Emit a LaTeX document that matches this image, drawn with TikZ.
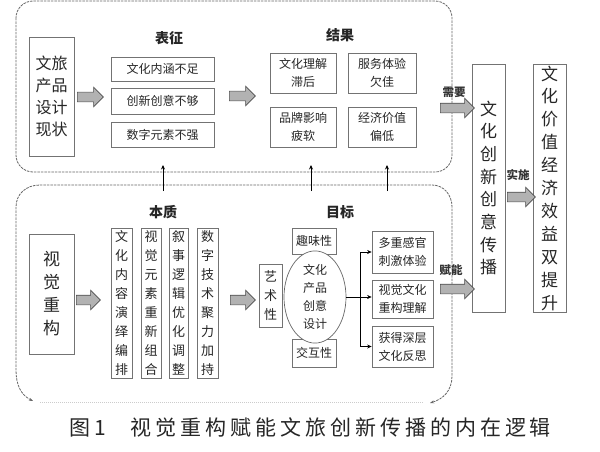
\documentclass[tikz,border=0pt]{standalone}
\usepackage{fontspec}
\setmainfont{Noto Sans CJK SC}
\newfontfamily\capfont[LetterSpace=19]{Noto Sans CJK SC}
\usepackage{tikz}
\usetikzlibrary{arrows.meta,positioning,shapes.geometric,shapes.arrows,shadows}
\newcommand{\fsz}[2]{\fontsize{#1}{#2}\selectfont}

\begin{document}
\begin{tikzpicture}[x=1pt,y=-1pt,
  box/.style={draw=black!55,line width=0.7pt,fill=white,inner sep=0pt,align=center,
    text=black!85,font=\fsz{12}{18},
    drop shadow={shadow xshift=1pt,shadow yshift=-1pt,fill=black!35,opacity=0.6}},
  grouplabel/.style={font=\bfseries\fsz{14}{16},text=black!85},
  verblabel/.style={font=\bfseries\fsz{11.5}{13},text=black!80},
  fat/.style={single arrow,draw=black!70,fill=black!30,line width=0.6pt,inner sep=4.5pt,
    single arrow head extend=5pt,minimum height=#1},
  region/.style={draw=black!60,line width=0.8pt,dash pattern=on 2.5pt off 1pt},
  link/.style={-{Stealth[length=4.5pt,width=4pt]},black,line width=0.7pt}]
  \useasboundingbox (0,0) rectangle (600,452);
  % ---- upper region: design status
  \draw[region,rounded corners=17pt] (16,1) rectangle (452,172);
  \node[box,font=\fsz{16}{22},minimum width=45,minimum height=119] (status) at (51.5,96.5)
    {文旅\\产品\\设计\\现状};
  \node[fat=26] (ar1) at (88,97) {};
  \node[grouplabel] (lbsym) at (169,38) {表征};
  \node[box,minimum width=103,minimum height=24] (t1) at (162.5,69) {文化内涵不足};
  \node[box,minimum width=103,minimum height=26] (t2) at (162.5,101) {创新创意不够};
  \node[box,minimum width=103,minimum height=25] (t3) at (162.5,134.5) {数字元素不强};
  \node[fat=26] (ar2) at (240,96) {};
  \node[grouplabel] (lbres) at (340,35) {结果};
  \node[box,minimum width=66,minimum height=40] (r1) at (303,73) {文化理解\\滞后};
  \node[box,minimum width=68,minimum height=40] (r2) at (382,73) {服务体验\\欠佳};
  \node[box,minimum width=66,minimum height=40] (r3) at (303,127) {品牌影响\\疲软};
  \node[box,minimum width=68,minimum height=40] (r4) at (382,127) {经济价值\\偏低};
  % ---- lower region: visual reconstruction
  \draw[region,{Stealth[length=4pt,width=3pt]}-{Stealth[length=4pt,width=3pt]}]
    (33,401) .. controls (21,395) and (16,385) .. (16,370) -- (16,207)
    .. controls (16,194) and (26,185) .. (40,185) -- (432,185)
    .. controls (444,185) and (452,195) .. (452,207) -- (452,376)
    .. controls (452,391) and (443,399) .. (430,403);
  \draw[black!20,dash pattern=on 1pt off 1pt] (40,402) -- (424,402);
  \node[box,font=\fsz{17}{23},minimum width=45,minimum height=120] (recon) at (51.5,294)
    {视\\觉\\重\\构};
  \node[fat=24] (ar3) at (86,300) {};
  \node[grouplabel] (lbess) at (163,212) {本质};
  \node[box,font=\fsz{13}{19},minimum width=21,minimum height=150] (v1) at (121.5,303)
    {文\\化\\内\\容\\演\\绎\\编\\排};
  \node[box,font=\fsz{13}{19},minimum width=20,minimum height=150] (v2) at (151,303)
    {视\\觉\\元\\素\\重\\新\\组\\合};
  \node[box,font=\fsz{13}{19},minimum width=19,minimum height=150] (v3) at (178.5,303)
    {叙\\事\\逻\\辑\\优\\化\\调\\整};
  \node[box,font=\fsz{13}{19},minimum width=21,minimum height=150] (v4) at (207.5,303)
    {数\\字\\技\\术\\聚\\力\\加\\持};
  \node[fat=25] (ar4) at (240.5,300) {};
  \node[grouplabel] (lbgoal) at (340,212) {目标};
  \node[box,font=\fsz{13}{19},minimum width=23,minimum height=63] (art) at (270.5,295.5)
    {艺\\术\\性};
  \node[box,minimum width=44,minimum height=26] (fun) at (314,241) {趣味性};
  \node[box,minimum width=44,minimum height=28] (inter) at (314,353) {交互性};
  \node[ellipse,draw=black!60,line width=0.7pt,fill=white,inner sep=0pt,align=center,
    text=black!85,font=\fsz{12}{18},minimum width=62,minimum height=80] (core) at (315,297)
    {文化\\产品\\创意\\设计};
  \node[box,minimum width=61,minimum height=42] (g1) at (402.5,252) {多重感官\\刺激体验};
  \node[box,minimum width=61,minimum height=38] (g2) at (402.5,299) {视觉文化\\重构理解};
  \node[box,minimum width=61,minimum height=41] (g3) at (402.5,346.5) {获得深层\\文化反思};
  \coordinate (fork) at (360,297);
  \draw[black,line width=0.9pt] (core.east) -- (fork);
  \draw[link] (fork) -- (fork -| g2.west);
  \draw[link] (fork) |- (g1.west);
  \draw[link] (fork) |- (g3.west);
  % ---- links from the lower region up to the upper one
  \foreach \name/\x in {a/163,b/311,c/387} {
    \coordinate (lo\name) at (\x,191);
    \coordinate (up\name) at (\x,165);
    \draw[link] (lo\name) -- (up\name);
  }
  % ---- communication and outcome
  \node[box,font=\fsz{17}{22.7},minimum width=33,minimum height=248] (comm) at (488.5,188)
    {文\\化\\创\\新\\创\\意\\传\\播};
  \node[box,font=\fsz{17}{22.9},minimum width=33,minimum height=248] (gain) at (549.5,188)
    {文\\化\\价\\值\\经\\济\\效\\益\\双\\提\\升};
  \node[fat=34] (arneed) at (455,108) {};
  \node[verblabel] (lbneed) at (454,92) {需要};
  \node[fat=34] (arenab) at (455,289) {};
  \node[verblabel] (lbenab) at (451,270) {赋能};
  \node[fat=28] (arimpl) at (519,197) {};
  \node[verblabel] (lbimpl) at (518,175) {实施};
  % ---- caption
  \node[anchor=west,font=\capfont\fsz{21}{24},text=black!85] (caption) at (66,427)
    {图1\hspace{24pt}视觉重构赋能文旅创新传播的内在逻辑};
\end{tikzpicture}
\end{document}
